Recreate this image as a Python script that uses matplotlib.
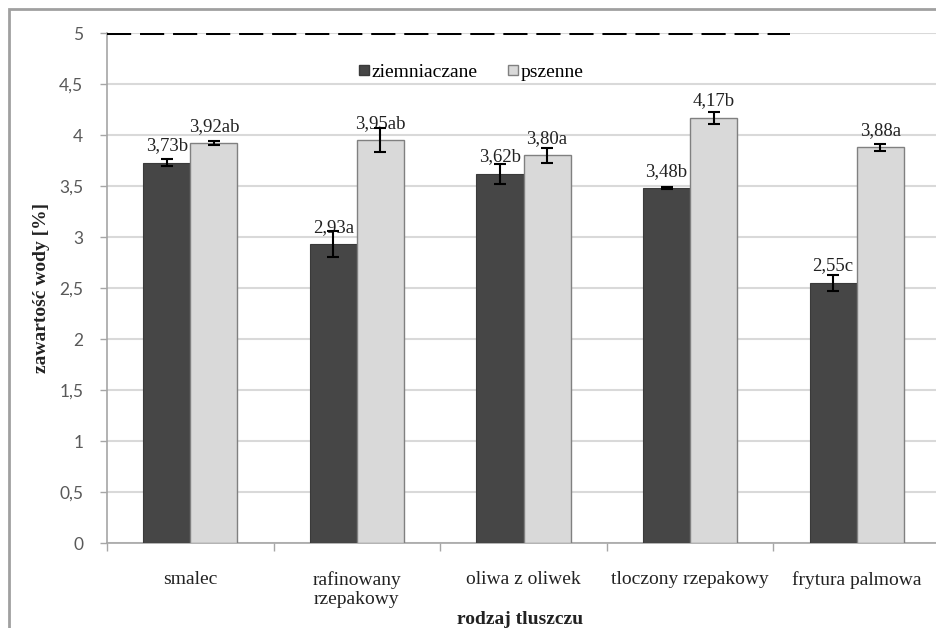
import numpy as np
import matplotlib
matplotlib.use('Agg')
import matplotlib.pyplot as plt
from matplotlib.patches import Rectangle
from matplotlib.lines import Line2D

categories = ['smalec', 'rafinowany\nrzepakowy', 'oliwa z oliwek',
              'tloczony rzepakowy', 'frytura palmowa']
ziemniaczane = [3.73, 2.93, 3.62, 3.48, 2.55]
pszenne = [3.92, 3.95, 3.80, 4.17, 3.88]
err_z = [0.03, 0.13, 0.10, 0.01, 0.08]
err_p = [0.02, 0.12, 0.07, 0.06, 0.035]
labels_z = ['3,73b', '2,93a', '3,62b', '3,48b', '2,55c']
labels_p = ['3,92ab', '3,95ab', '3,80a', '4,17b', '3,88a']
yticks = [0, 0.5, 1, 1.5, 2, 2.5, 3, 3.5, 4, 4.5, 5]
ytick_labels = ['0', '0,5', '1', '1,5', '2', '2,5', '3', '3,5', '4', '4,5', '5']
limit = 5

serif = 'Liberation Serif'
dark = '#464646'
light = '#d9d9d9'

fig = plt.figure(figsize=(9.36, 6.28), dpi=100)
ax = fig.add_axes([107/936, 1-543/628, 833/936, 510/628])

x = np.arange(len(categories))
w = 0.283
ax.bar(x - w/2, ziemniaczane, w, color=dark, edgecolor='#3a3a3a', linewidth=0.8, zorder=3)
ax.bar(x + w/2, pszenne, w, color=light, edgecolor='#808080', linewidth=1.0, zorder=3)
ax.errorbar(x - w/2, ziemniaczane, yerr=err_z, fmt='none', ecolor='black',
            elinewidth=1.5, capsize=4, capthick=1.5, zorder=4)
ax.errorbar(x + w/2, pszenne, yerr=err_p, fmt='none', ecolor='black',
            elinewidth=1.5, capsize=4, capthick=1.5, zorder=4)

for xi, v, t in zip(x - w/2, ziemniaczane, labels_z):
    ax.annotate(t, (xi, v), xytext=(0, 6), textcoords='offset points',
                ha='center', va='bottom', fontsize=13.5, family=serif, color='#222222')
for xi, v, t in zip(x + w/2, pszenne, labels_p):
    ax.annotate(t, (xi, v), xytext=(0, 6), textcoords='offset points',
                ha='center', va='bottom', fontsize=13.5, family=serif, color='#222222')

ax.hlines(limit, -0.5, 3.6, colors='black', linewidth=2.9,
          linestyles=(0, (6.0, 2.2)), zorder=5)

ax.set_xlim(-0.5, 4.5)
ax.set_ylim(0, 5)
ax.set_yticks(yticks)
ax.set_yticklabels(ytick_labels, family='Lato', fontsize=12.5, color='#595959')
ax.set_xticks(x)
ax.set_xticklabels(categories, family=serif, fontsize=14, color='#222222',
                   linespacing=1.2)
ax.tick_params(axis='x', length=0, pad=20)
ax.set_xticks(np.arange(-0.5, 5.0, 1), minor=True)
ax.tick_params(axis='x', which='minor', length=6, color='#a6a6a6', width=1)
ax.tick_params(axis='y', length=5, color='#a6a6a6', width=1, pad=12)
ax.grid(axis='y', color='#d9d9d9', linewidth=1.5, zorder=0)
ax.set_axisbelow(True)
for s in ['top', 'right']:
    ax.spines[s].set_visible(False)
for s in ['left', 'bottom']:
    ax.spines[s].set_color('#a6a6a6')
    ax.spines[s].set_linewidth(1.2)

ax.set_ylabel('zawartość wody [%]', family=serif, fontsize=14, fontweight='bold',
              color='#222222')
ax.yaxis.set_label_coords(-0.068, 0.5)
fig.text(0.556, 1-620/628, 'rodzaj tluszczu', family=serif, fontsize=14,
         fontweight='bold', color='#222222', ha='center', va='center')

handles = [Line2D([], [], marker='s', linestyle='none', markersize=7,
                  markerfacecolor=dark, markeredgecolor='#3a3a3a'),
           Line2D([], [], marker='s', linestyle='none', markersize=7,
                  markerfacecolor=light, markeredgecolor='#808080')]
fig.legend(handles, ['ziemniaczane', 'pszenne'], loc='center',
           bbox_to_anchor=(470/936, 1-72/628), ncol=2, frameon=False,
           prop={'family': serif, 'size': 14}, handletextpad=0.0,
           columnspacing=1.4, handlelength=0.8)

fig.patches.append(Rectangle((9/936, -0.1), 1.2, 1 - 9/628 + 0.1,
                             transform=fig.transFigure, fill=False,
                             edgecolor='#a0a0a0', linewidth=2))

fig.savefig('out.png', dpi=100)
